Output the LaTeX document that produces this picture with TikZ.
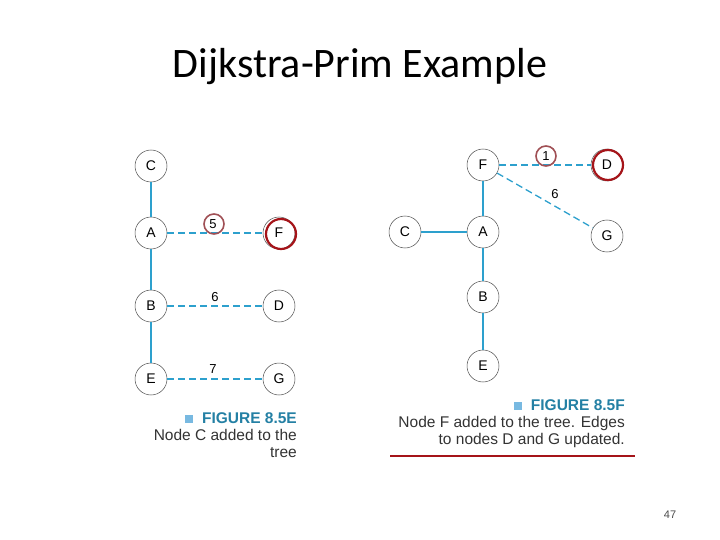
\documentclass[tikz,border=0pt]{standalone}
\usepackage{fontspec}
\setmainfont{Liberation Sans}
\newfontfamily\titlefont{Carlito}
\definecolor{edge}{RGB}{45,160,205}
\definecolor{redmark}{RGB}{165,20,25}
\definecolor{soft}{RGB}{160,80,85}
\definecolor{capblue}{RGB}{120,185,225}
\begin{document}
\begin{tikzpicture}[x=1pt,y=-1pt,
  vert/.style={circle,draw=black!70,line width=0.5pt,minimum size=32pt,inner sep=0pt,font=\fontsize{14}{14}\selectfont},
  tree/.style={edge,line width=1.3pt},
  cand/.style={edge,line width=1.3pt,dash pattern=on 7pt off 4pt},
  wt/.style={font=\fontsize{13}{13}\selectfont},
  ring/.style={circle,draw=redmark,line width=2.2pt,minimum size=30pt,inner sep=0pt},
  softring/.style={circle,draw=soft,line width=1.6pt,minimum size=20pt,inner sep=0pt},
  captext/.style={font=\fontsize{15.5}{17}\selectfont,text=black!80}]
\useasboundingbox (0,0) rectangle (720,540);
\node[font=\titlefont\fontsize{42}{42}\selectfont] (title) at (360,67) {Dijkstra-Prim Example};
% left
\node[vert] (lC) at (151,166) {C};
\node[vert] (lA) at (151,233) {A};
\node[vert] (lF) at (279,233) {F};
\node[vert] (lB) at (151,306) {B};
\node[vert] (lD) at (279,306) {D};
\node[vert] (lE) at (151,379) {E};
\node[vert] (lG) at (279,379) {G};
\draw[tree] (lC) -- (lA);
\draw[tree] (lA) -- (lB);
\draw[tree] (lB) -- (lE);
\draw[cand] (lA) -- (lF);
\draw[cand] (lB) -- (lD);
\draw[cand] (lE) -- (lG);
\node[wt] (w5) at (213,224) {5};
\node[wt] (w6) at (215,297) {6};
\node[wt] (w7) at (213,369) {7};
\node[softring] (r5) at (214,224) {};
\node[ring] (rF) at (281,234) {};
% right
\node[vert] (rFv) at (483,165) {F};
\node[vert] (rDv) at (607,165) {D};
\node[vert] (rCv) at (405,232) {C};
\node[vert] (rAv) at (483,232) {A};
\node[vert] (rGv) at (607,236) {G};
\node[vert] (rBv) at (483,297) {B};
\node[vert] (rEv) at (483,366) {E};
\draw[tree] (rFv) -- (rAv);
\draw[tree] (rCv) -- (rAv);
\draw[tree] (rAv) -- (rBv);
\draw[tree] (rBv) -- (rEv);
\draw[cand] (rFv) -- (rDv);
\draw[cand] (rFv) -- (rGv);
\node[wt] (w1) at (546,156) {1};
\node[wt] (w6b) at (555,194) {6};
\node[softring] (r1) at (546,156) {};
\node[ring] (rD) at (608,165) {};
% captions
\node[captext,anchor=north east,align=right,inner sep=0pt] (capE) at (297,412) {{\color{capblue}\rule{8pt}{8pt}}\ \ {\color{edge!80!black}\textbf{FIGURE 8.5E}}\\Node C added to the\\tree};
\node[captext,anchor=north east,align=right,inner sep=0pt] (capF) at (625,399) {{\color{capblue}\rule{8pt}{8pt}}\ \ {\color{edge!80!black}\textbf{FIGURE 8.5F}}\\Node F added to the tree. Edges\\to nodes D and G updated.};
\coordinate (l1) at (390,456);
\coordinate (l2) at (635,456);
\draw[redmark,line width=2pt] (l1) -- (l2);
\node[font=\fontsize{11}{11}\selectfont,text=black!70] (pg) at (670,515) {47};
\end{tikzpicture}
\end{document}
